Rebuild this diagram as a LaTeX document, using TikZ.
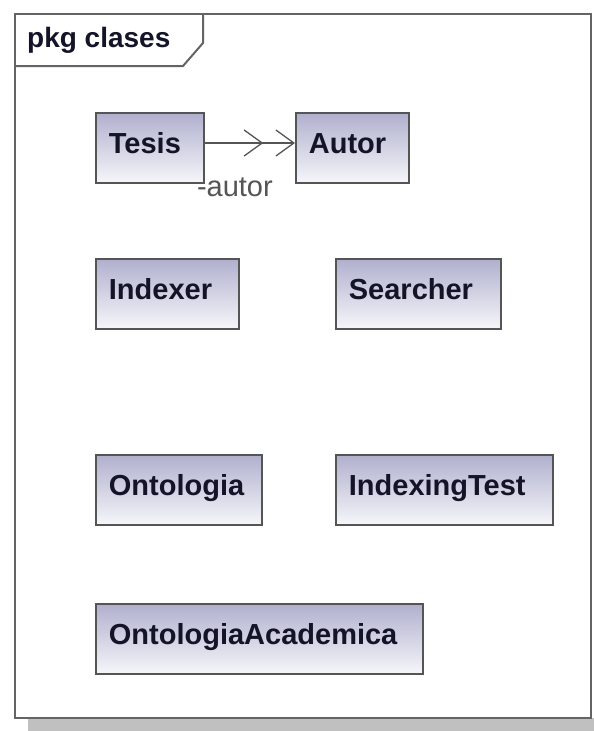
\documentclass[tikz,border=0pt]{standalone}
\usepackage{fontspec}
\setmainfont{Liberation Sans}
\usetikzlibrary{arrows.meta}

\begin{document}
\begin{tikzpicture}[
    x=1pt, y=-1pt,
    line join=miter,
    classbox/.style={draw=clsline, line width=1.8pt, top color=clstop, bottom color=clsbot,
        anchor=north west, align=left, inner xsep=13pt, minimum height=70pt,
        text height=22pt, text depth=10pt, text=clstext,
        font=\fontsize{29}{33}\selectfont\bfseries},
    rolelabel/.style={text=clsline, inner sep=0pt, font=\fontsize{29}{32}\selectfont}
]

% ========= Colors =========
\definecolor{clstop}{RGB}{176,176,206}
\definecolor{clsbot}{RGB}{246,246,250}
\definecolor{clsline}{RGB}{85,85,85}
\definecolor{clstext}{RGB}{20,20,40}
\definecolor{framecol}{RGB}{100,100,100}
\definecolor{shadowcol}{RGB}{192,192,192}

\useasboundingbox (0,0) rectangle (594,731);

% ========= Package frame =========
\fill[shadowcol] (28,718) rectangle (594,731);
\draw[framecol, line width=2pt, fill=white] (15,14) rectangle (591,718);
\draw[framecol, line width=2pt] (15,66) -- (183,66) -- (203,43) -- (203,14);
\node[anchor=west, inner sep=0pt, text=clstext, font=\fontsize{28}{32}\selectfont\bfseries] (pkgtitle) at (27,40) {pkg clases};

% ========= Classes =========
\foreach \nm/\x/\y/\tw/\lab in {
    tesis/95/112/82/Tesis,
    autor/295/112/87/Autor,
    indexer/95/258/117/Indexer,
    searcher/335/258/139/Searcher,
    ontologia/95/454/140/Ontologia,
    indexingtest/335/454/191/IndexingTest,
    ontacad/95/603/301/OntologiaAcademica}
{
    \node[classbox, text width=\tw pt] (\nm) at (\x,\y) {\lab};
}

% ========= Association =========
\draw[clsline, line width=1.8pt,
    -{Straight Barb[length=18pt,width=26pt,line width=1.3pt,sep=12pt]Straight Barb[length=18pt,width=26pt,line width=1.3pt]}]
    (tesis.east |- 0,143) -- (autor.west |- 0,143);
\node[rolelabel, anchor=base west] (autorrol) at ([xshift=-8pt,yshift=-13pt]tesis.south east) {-autor};

\end{tikzpicture}
\end{document}
